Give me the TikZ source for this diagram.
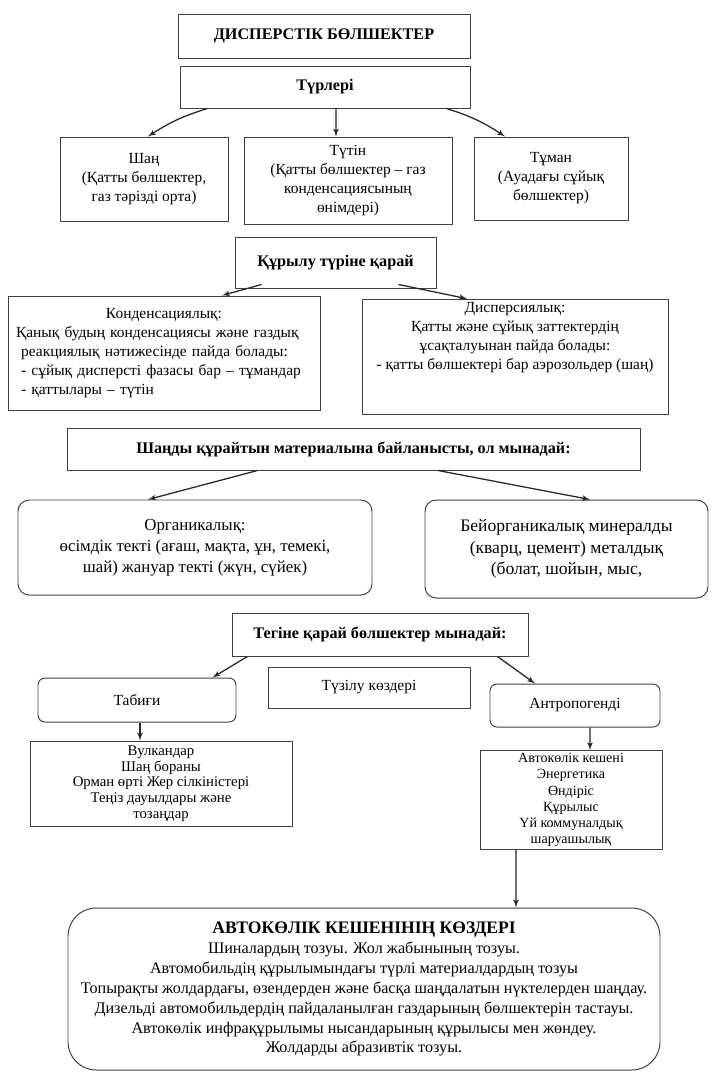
\documentclass[tikz,border=0pt]{standalone}
\usepackage{fontspec}
\setmainfont{Liberation Serif}
\usepackage{tikz}
\usetikzlibrary{arrows}
\tikzset{box/.style = {shape = rectangle, draw = black!75, line width = 0.7pt, align = center, inner sep = 2pt, font = \fontsize{11}{13.5}\selectfont}}
\tikzset{rbox/.style = {box, rounded corners = 8pt}}
\tikzset{head/.style = {box, font = \fontsize{11.5}{13.5}\selectfont\bfseries}}
\tikzset{edge/.style = {->,> = latex', line width = 0.9pt, black!85}}

\begin{document}
\begin{tikzpicture}
			\useasboundingbox (0, 0) rectangle (17.8, -26.925);

			\node[head, minimum width = 7.3cm, minimum height = 1.1cm] (a) at (8.1, -0.9) {ДИСПЕРСТІК БӨЛШЕКТЕР};
			\node[head, minimum width = 7.25cm, minimum height = 1.05cm] (b) at (8.125, -2.175) {Түрлері};

			\node[box, minimum width = 4.2cm, minimum height = 2.1cm] (c) at (3.6, -4.475) {Шаң\\(Қатты бөлшектер,\\газ тәрізді орта)};
			\node[box, minimum width = 5.2cm, minimum height = 2.175cm] (d) at (8.7, -4.5125) {Түтін\\(Қатты бөлшектер – газ\\конденсациясының\\өнімдері)};
			\node[box, minimum width = 3.85cm, minimum height = 2.075cm] (e) at (13.775, -4.4625) {Тұман\\(Ауадағы сұйық\\бөлшектер)};

			\node[head, minimum width = 5.025cm, minimum height = 1.275cm] (f) at (8.3875, -6.5625) {Құрылу түріне қарай};
			\node[box, minimum width = 7.8cm, minimum height = 2.85cm, text width = 7.4cm, align = left] (g) at (4.1, -8.825) {\makebox[7.4cm]{Конденсациялық:}\\Қанық будың конденсациясы және газдық\\ \ реакциялық нәтижесінде пайда болады:\\ \ - сұйық дисперсті фазасы бар – тұмандар\\ \ - қаттылары – түтін\\[0.3cm]};
			\node[box, minimum width = 7.65cm, minimum height = 2.75cm] (h) at (12.875, -8.925) {Дисперсиялық:\\Қатты және сұйық заттектердің\\ұсақталуынан пайда болады:\\- қатты бөлшектері бар аэрозольдер (шаң)\\[0.6cm]};

			\node[head, minimum width = 14.325cm, minimum height = 1.05cm] (i) at (8.8375, -11.225) {Шаңды құрайтын материалына байланысты, ол мынадай:};
			\node[rbox, minimum width = 8.85cm, minimum height = 2.375cm, font = \fontsize{12}{15}\selectfont] (j) at (4.875, -13.6875) {Органикалық:\\өсімдік текті (ағаш, мақта, ұн, темекі,\\шай) жануар текті (жүн, сүйек)};
			\node[rbox, minimum width = 7.075cm, minimum height = 2.45cm, font = \fontsize{12.5}{15.5}\selectfont] (k) at (14.1625, -13.725) {Бейорганикалық минералды\\(кварц, цемент) металдық\\(болат, шойын, мыс,};

			\node[head, minimum width = 7.4cm, minimum height = 1.075cm] (l) at (9.5, -15.8625) {Тегіне қарай бөлшектер мынадай:};
			\node[rbox, rounded corners = 5pt, minimum width = 4.95cm, minimum height = 1.1cm] (m) at (3.425, -17.5) {Табиғи};
			\node[box, minimum width = 5.05cm, minimum height = 1.025cm] (n) at (9.225, -17.1875) {Түзілу көздері};
			\node[rbox, rounded corners = 5pt, minimum width = 4.25cm, minimum height = 1.075cm] (o) at (14.375, -17.6375) {Антропогенді};

			\node[box, minimum width = 6.55cm, minimum height = 2.125cm, font = \fontsize{10.5}{11.2}\selectfont] (p) at (4.025, -19.5875) {Вулкандар\\Шаң бораны\\Орман өрті Жер сілкіністері\\Теңіз дауылдары және\\тозаңдар};
			\node[box, minimum width = 4.55cm, minimum height = 2.4cm, font = \fontsize{10}{11.5}\selectfont] (q) at (14.275, -20) {Автокөлік кешені\\Энергетика\\Өндіріс\\Құрылыс\\Үй коммуналдық\\шаруашылық};

			\node[rbox, rounded corners = 20pt, minimum width = 14.8cm, minimum height = 4.05cm, font = \fontsize{11.5}{14.2}\selectfont] (r) at (9.1, -24.725) {{\fontsize{12.5}{14.5}\selectfont\bfseries АВТОКӨЛІК КЕШЕНІНІҢ КӨЗДЕРІ}\\Шиналардың тозуы. Жол жабынының тозуы.\\Автомобильдің құрылымындағы түрлі материалдардың тозуы\\Топырақты жолдардағы, өзендерден және басқа шаңдалатын нүктелерден шаңдау.\\Дизельді автомобильдердің пайдаланылған газдарының бөлшектерін тастауы.\\Автокөлік инфрақұрылымы нысандарының құрылысы мен жөндеу.\\Жолдарды абразивтік тозуы.};

			\draw[edge] ([xshift = 0.7cm]b.south west) to[bend right = 8] ([xshift = 0.1cm]c.north);
			\draw[edge] ([xshift = 0.275cm]b.south) -- ([xshift = -0.3cm]d.north);
			\draw[edge] ([xshift = -0.6cm]b.south east) to[bend left = 8] ([xshift = -1.15cm]e.north);
			\draw[edge] ([xshift = 0.675cm, yshift = 0.1cm]f.south west) -- ([xshift = 1.45cm]g.north);
			\draw[edge] ([xshift = -0.95cm, yshift = 0.1cm]f.south east) -- ([xshift = -1.2cm]h.north);
			\draw[edge] ([xshift = 4.775cm]i.south west) -- ([xshift = -1.175cm]j.north);
			\draw[edge] ([xshift = 2.1125cm]i.south) -- ([xshift = 0.5875cm]k.north);
			\draw[edge] ([xshift = 0.4cm]l.south west) -- ([xshift = -0.6cm]m.north east);
			\draw[edge] ([xshift = -0.775cm]l.south east) -- ([xshift = -1cm]o.north);
			\draw[edge] ([xshift = 0.075cm]m.south) -- ([xshift = -0.525cm]p.north);
			\draw[edge] ([xshift = 0.375cm]o.south) -- ([xshift = 0.475cm]q.north);
			\draw[edge] ([xshift = -1.375cm]q.south) -- ([xshift = 3.8cm]r.north);
		\end{tikzpicture}
\end{document}
